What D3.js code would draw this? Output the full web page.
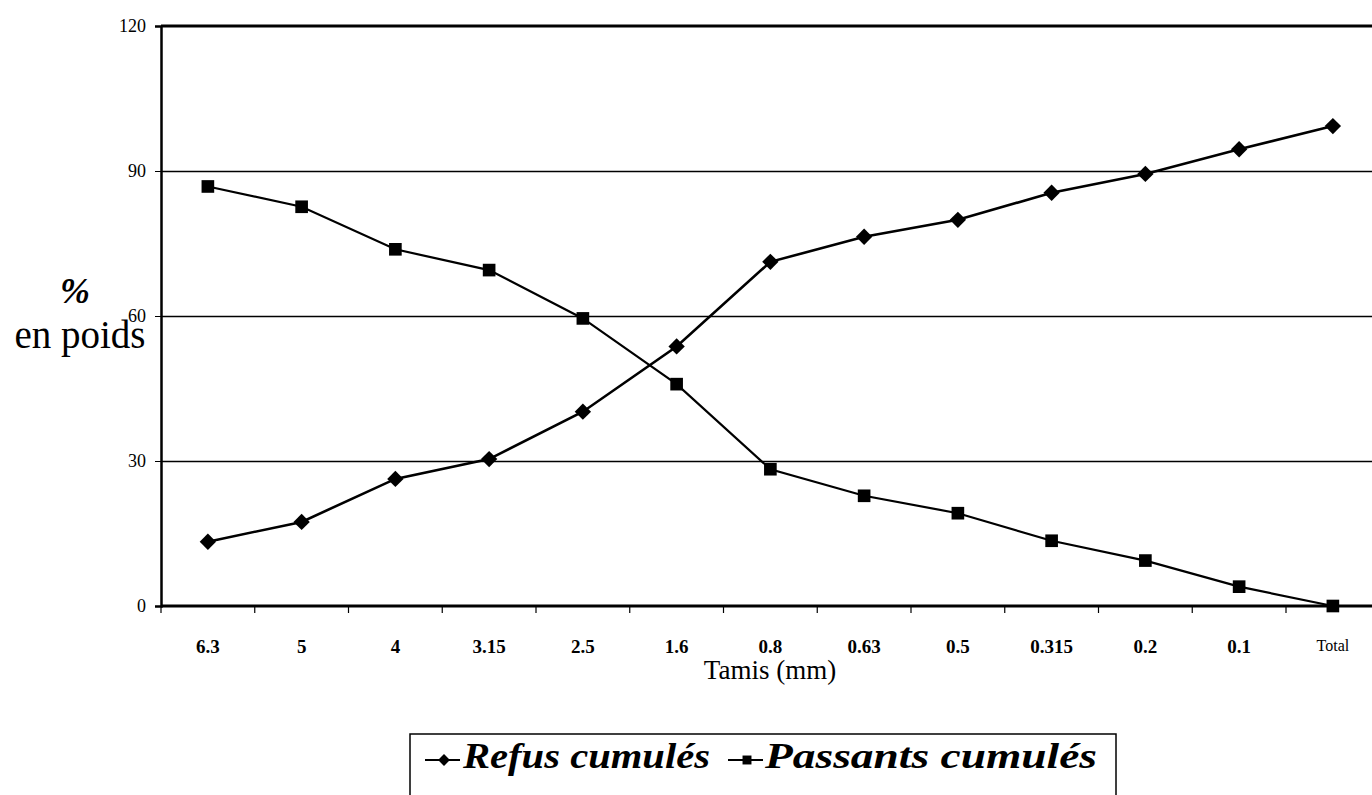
<!DOCTYPE html>
<html><head><meta charset="utf-8">
<script src="https://cdn.jsdelivr.net/npm/d3@7"></script>
<style>body{margin:0;background:#fff}svg{display:block}</style>
</head><body>
<script>
const categories = ["6.3","5","4","3.15","2.5","1.6","0.8","0.63","0.5","0.315","0.2","0.1","Total"];
const refus = [13.3,17.4,26.3,30.4,40.2,53.7,71.2,76.4,79.9,85.5,89.4,94.5,99.3];
const passants = [86.8,82.6,73.8,69.5,59.5,45.9,28.3,22.8,19.2,13.5,9.4,4.0,0];
const yTicks = [0,30,60,90,120];
const seriesNames = ["Refus cumulés","Passants cumulés"];

const W=1372,H=795;
const svg=d3.select("body").append("svg").attr("width",W).attr("height",H);
const x=d3.scaleBand().domain(categories).range([161,161+13*93.75]);
const y=d3.scaleLinear().domain([0,120]).range([606,26]);
const serif="'Liberation Serif','Times New Roman',serif";

// gridlines
svg.append("g").selectAll("line").data([30,60,90]).join("line")
  .attr("x1",161).attr("x2",W).attr("y1",d=>Math.round(y(d))+0.5).attr("y2",d=>Math.round(y(d))+0.5)
  .attr("stroke","#000").attr("stroke-width",1.3);
// top border
svg.append("line").attr("x1",161).attr("x2",W).attr("y1",y(120)).attr("y2",y(120)).attr("stroke","#000").attr("stroke-width",3);

// y axis
const ya=svg.append("g").attr("transform","translate(161,0)")
  .call(d3.axisLeft(y).tickValues(yTicks).tickSize(6).tickPadding(9));
ya.select(".domain").attr("stroke-width",2.5);
ya.selectAll("text").attr("font-family",serif).attr("font-size",18).attr("fill","#000");

// x axis
const xa=svg.append("g").attr("transform","translate(0,606)")
  .call(d3.axisBottom(x).tickSize(0).tickPadding(34));
xa.select(".domain").remove();
xa.selectAll("text").attr("font-family",serif).attr("font-size",d=>d==="Total"?16:19).attr("font-weight",d=>d==="Total"?"normal":"bold").attr("fill","#000");
svg.append("line").attr("x1",161).attr("x2",W).attr("y1",606).attr("y2",606).attr("stroke","#000").attr("stroke-width",3);
svg.append("g").selectAll("line").data(categories).join("line")
  .attr("x1",d=>x(d)).attr("x2",d=>x(d)).attr("y1",606).attr("y2",613)
  .attr("stroke","#000").attr("stroke-width",1.2);

// axis titles
svg.append("text").attr("x",770).attr("y",679).attr("text-anchor","middle")
  .attr("font-family",serif).attr("font-size",27).text("Tamis (mm)");
svg.append("text").attr("x",75).attr("y",303).attr("text-anchor","middle")
  .attr("font-family",serif).attr("font-size",36).attr("font-weight","bold").attr("font-style","italic").text("%");
svg.append("text").attr("x",80).attr("y",348).attr("text-anchor","middle")
  .attr("font-family",serif).attr("font-size",39).text("en poids");

const cx=d=>x(d)+x.bandwidth()/2;
const line=d3.line().x((d,i)=>cx(categories[i])).y(d=>y(d));
const diamond=d3.symbol().type(d3.symbolDiamond2).size(170);
const square=d3.symbol().type(d3.symbolSquare).size(160);

svg.append("path").datum(refus).attr("d",line).attr("fill","none").attr("stroke","#000").attr("stroke-width",2.6);
svg.append("path").datum(passants).attr("d",line).attr("fill","none").attr("stroke","#000").attr("stroke-width",2.2);
svg.append("g").selectAll("path").data(refus).join("path")
  .attr("transform",(d,i)=>`translate(${cx(categories[i])},${y(d)})`).attr("d",diamond).attr("fill","#000");
svg.append("g").selectAll("path").data(passants).join("path")
  .attr("transform",(d,i)=>`translate(${cx(categories[i])},${y(d)})`).attr("d",square).attr("fill","#000");

// legend
const lg=svg.append("g");
lg.append("rect").attr("x",410).attr("y",734).attr("width",706).attr("height",80).attr("fill","none").attr("stroke","#000").attr("stroke-width",1.5);
const items=[{x:425,tx:463,w:247,sym:d3.symbol().type(d3.symbolDiamond2).size(90)},{x:728,tx:765,w:332,sym:d3.symbol().type(d3.symbolSquare).size(80)}];
items.forEach((it,i)=>{
  lg.append("line").attr("x1",it.x).attr("x2",it.x+35).attr("y1",760).attr("y2",760).attr("stroke","#000").attr("stroke-width",1.8);
  lg.append("path").attr("transform",`translate(${it.x+19},760)`).attr("d",it.sym).attr("fill","#000");
  lg.append("text").attr("x",it.tx).attr("y",768).attr("font-family",serif).attr("font-size",35)
    .attr("font-weight","bold").attr("font-style","italic")
    .attr("textLength",it.w).attr("lengthAdjust","spacingAndGlyphs").text(seriesNames[i]);
});
</script>
</body></html>
